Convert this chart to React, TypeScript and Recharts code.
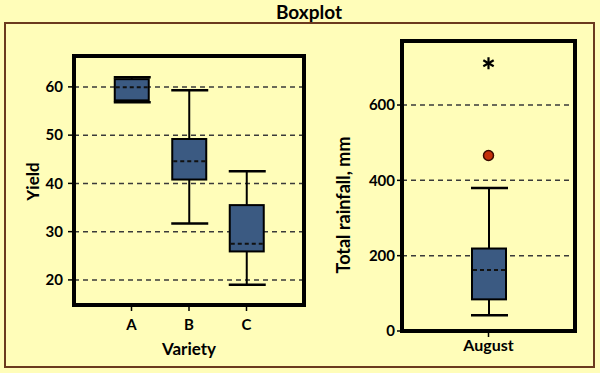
import { Bar, CartesianGrid, ComposedChart, ReferenceArea, Scatter, XAxis, YAxis } from "recharts";

// Yield by variety (left panel)
const varieties = ["A", "B", "C"];
const yieldMin = [56.8, 31.7, 19.0];
const yieldQ1 = [57.2, 40.8, 25.9];
const yieldMedian = [59.9, 44.6, 27.5];
const yieldQ3 = [61.6, 49.2, 35.5];
const yieldMax = [62.0, 59.3, 42.5];
const yieldTicks = [20, 30, 40, 50, 60];
const yieldDomain = [14.8, 66.4];
const varietySlots = [1, 2, 3];

// August rainfall (right panel)
const months = ["August"];
const rainMin = [42];
const rainQ1 = [84];
const rainMedian = [162];
const rainQ3 = [219];
const rainMax = [380];
const rainOutlier = [466];
const rainExtreme = [711];
const rainTicks = [0, 200, 400, 600];
const rainDomain = [0, 770];

const yieldData = varieties.map((v, i) => ({
  category: v,
  slot: varietySlots[i],
  min: yieldMin[i],
  q1: yieldQ1[i],
  median: yieldMedian[i],
  q3: yieldQ3[i],
  max: yieldMax[i],
}));

const rainData = months.map((m, i) => ({
  category: m,
  min: rainMin[i],
  q1: rainQ1[i],
  median: rainMedian[i],
  q3: rainQ3[i],
  max: rainMax[i],
  outlier: rainOutlier[i],
  extreme: rainExtreme[i],
}));

const FONT = "Lato, 'Open Sans', sans-serif";
const BG = "#FFFDB9";
const BOX_FILL = "#3B5A82";
const tickStyle = { fill: "#000", fontSize: 15, fontWeight: 700, fontFamily: FONT };
const gridProps = { vertical: false, stroke: "#3a3a3a", strokeWidth: 1.5, strokeDasharray: "5 4" };

const range = (d: any) => [d.min, d.max];

function BoxShape(props: any) {
  const { x, y, width, height, payload } = props;
  if (!payload) return null;
  const top = Math.min(y, y + height);
  const bottom = Math.max(y, y + height);
  const { min, q1, median, q3, max } = payload;
  const py = (v: number) => top + ((max - v) / (max - min)) * (bottom - top);
  const cx = x + width / 2;
  const capL = x - 1;
  const capR = x + width + 2;
  return (
    <g>
      <line x1={cx} x2={cx} y1={py(max)} y2={py(q3)} stroke="#000" strokeWidth={2} />
      <line x1={cx} x2={cx} y1={py(q1)} y2={py(min)} stroke="#000" strokeWidth={2} />
      <line x1={capL} x2={capR} y1={py(max)} y2={py(max)} stroke="#000" strokeWidth={2.5} />
      <line x1={capL} x2={capR} y1={py(min)} y2={py(min)} stroke="#000" strokeWidth={2.5} />
      <rect
        x={x}
        y={py(q3)}
        width={width}
        height={py(q1) - py(q3)}
        fill={BOX_FILL}
        stroke="#000"
        strokeWidth={2}
      />
      <line
        x1={x + 1}
        x2={x + width - 1}
        y1={py(median)}
        y2={py(median)}
        stroke="#111"
        strokeWidth={2}
        strokeDasharray="4 3"
      />
    </g>
  );
}

function OutlierDot(props: any) {
  const { cx, cy } = props;
  return <circle cx={cx} cy={cy} r={5} fill="#C4300A" stroke="#3A0A00" strokeWidth={1.5} />;
}

function OutlierStar(props: any) {
  const { cx, cy } = props;
  const r = 6;
  const arms = [0, 60, 120].map((a) => {
    const rad = (a * Math.PI) / 180;
    return (
      <line
        key={a}
        x1={cx - r * Math.sin(rad)}
        y1={cy - r * Math.cos(rad)}
        x2={cx + r * Math.sin(rad)}
        y2={cy + r * Math.cos(rad)}
        stroke="#000"
        strokeWidth={2.2}
      />
    );
  });
  return <g>{arms}</g>;
}

function vLabel(text: string, cx: number, shiftY: number, size: number) {
  return {
    content: (p: any) => {
      const vb = p.viewBox || {};
      const yy = vb.y + vb.height / 2 + shiftY;
      return (
        <text
          x={cx}
          y={yy}
          transform={`rotate(-90, ${cx}, ${yy})`}
          textAnchor="middle"
          dominantBaseline="central"
          fill="#000"
          fontSize={size}
          fontWeight={700}
          fontFamily={FONT}
        >
          {text}
        </text>
      );
    },
  };
}

export default function App() {
  return (
    <div
      style={{
        position: "absolute",
        left: 0,
        top: 0,
        width: 600,
        height: 373,
        background: BG,
        fontFamily: FONT,
        overflow: "hidden",
      }}
    >
      <div
        style={{
          position: "absolute",
          left: 209,
          top: 0,
          width: 200,
          textAlign: "center",
          fontSize: 19,
          fontWeight: 700,
          color: "#000",
        }}
      >
        Boxplot
      </div>
      <div
        style={{
          position: "absolute",
          left: 4,
          top: 22,
          width: 591,
          height: 346,
          boxSizing: "border-box",
          border: "2px solid #6B3A1E",
        }}
      />

      <div style={{ position: "absolute", left: 0, top: 0 }}>
        <ComposedChart
          width={320}
          height={373}
          data={yieldData}
          margin={{ top: 56, right: 16, left: 0, bottom: 20 }}
        >
          <CartesianGrid {...gridProps} />
          <Bar dataKey={range} barSize={34} shape={BoxShape} isAnimationActive={false} />
          <XAxis
            dataKey="slot"
            type="number"
            domain={[0, 4]}
            ticks={varietySlots}
            tickFormatter={(v: number) => varieties[varietySlots.indexOf(v)] ?? ""}
            height={48}
            tick={tickStyle}
            tickSize={6}
            tickMargin={8}
            tickLine={{ stroke: "#000", strokeWidth: 1.5 }}
            axisLine={false}
            label={{
              content: (p: any) => {
                const vb = p.viewBox || {};
                return (
                  <text
                    x={vb.x + vb.width / 2}
                    y={348}
                    textAnchor="middle"
                    dominantBaseline="central"
                    fill="#000"
                    fontSize={17}
                    fontWeight={700}
                    fontFamily={FONT}
                  >
                    Variety
                  </text>
                );
              },
            }}
          />
          <YAxis
            type="number"
            domain={yieldDomain}
            allowDataOverflow
            ticks={yieldTicks}
            width={74}
            tick={tickStyle}
            tickSize={6}
            tickMargin={5}
            tickLine={{ stroke: "#000", strokeWidth: 1.5 }}
            axisLine={false}
            label={vLabel("Yield", 32, 1, 17)}
          />
          <ReferenceArea
            y1={yieldDomain[0]}
            y2={yieldDomain[1]}
            fill="none"
            fillOpacity={0}
            stroke="#000"
            strokeWidth={4}
            ifOverflow="visible"
          />
        </ComposedChart>
      </div>

      <div style={{ position: "absolute", left: 320, top: 0 }}>
        <ComposedChart
          width={280}
          height={373}
          data={rainData}
          margin={{ top: 41, right: 25, left: 0, bottom: 12 }}
        >
          <CartesianGrid {...gridProps} />
          <Bar dataKey={range} barSize={34} shape={BoxShape} isAnimationActive={false} />
          <Scatter dataKey="outlier" shape={OutlierDot} isAnimationActive={false} />
          <Scatter dataKey="extreme" shape={OutlierStar} isAnimationActive={false} />
          <XAxis
            dataKey="category"
            height={30}
            tick={{ ...tickStyle, fontSize: 16 }}
            tickSize={6}
            tickMargin={3}
            tickLine={{ stroke: "#000", strokeWidth: 1.5 }}
            axisLine={false}
          />
          <YAxis
            type="number"
            domain={rainDomain}
            allowDataOverflow
            ticks={rainTicks}
            width={82}
            tick={tickStyle}
            tickSize={5}
            tickMargin={2}
            tickLine={{ stroke: "#000", strokeWidth: 1.5 }}
            axisLine={false}
            label={vLabel("Total rainfall, mm", 23, 19, 18)}
          />
          <ReferenceArea
            y1={rainDomain[0]}
            y2={rainDomain[1]}
            fill="none"
            fillOpacity={0}
            stroke="#000"
            strokeWidth={4}
            ifOverflow="visible"
          />
        </ComposedChart>
      </div>
    </div>
  );
}
